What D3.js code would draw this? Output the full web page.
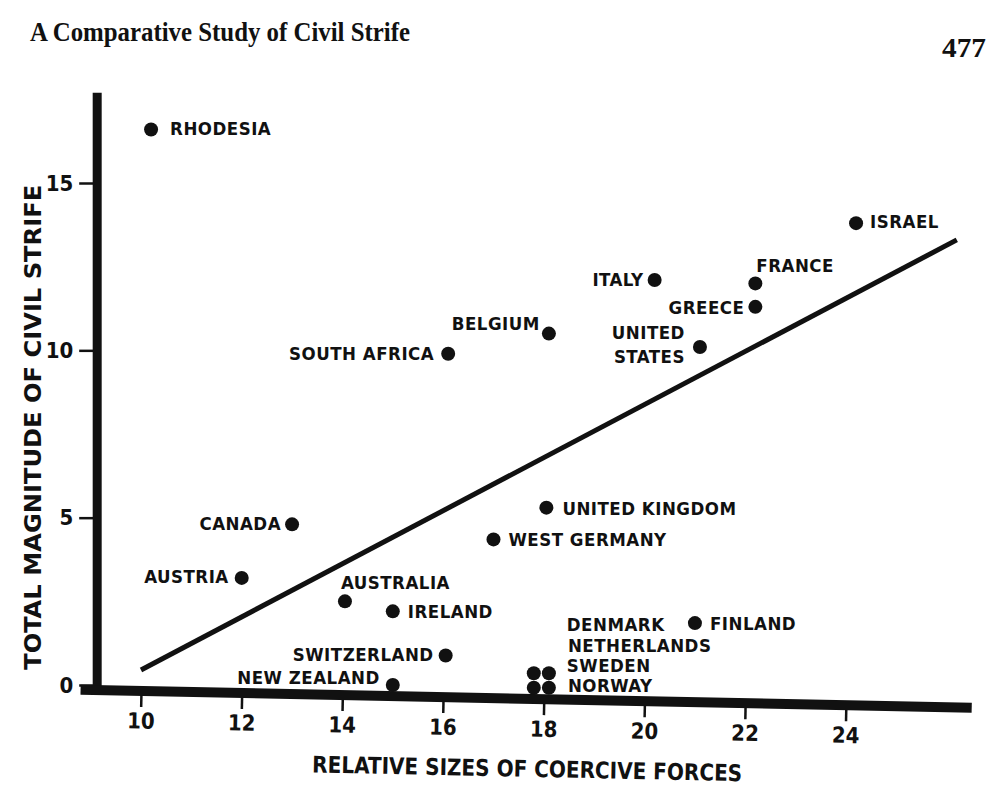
<!DOCTYPE html>
<html>
<head>
<meta charset="utf-8">
<script src="https://cdn.jsdelivr.net/npm/d3@7"></script>
<style>
  body { margin: 0; background: #fff; }
  svg { display: block; }
  text { fill: #111; }
  .lbl { font-family: "DejaVu Sans", sans-serif; font-stretch: condensed; font-weight: bold; font-size: 18.5px; letter-spacing: 0.5px; }
  .tick-lbl { font-family: "DejaVu Sans", sans-serif; font-stretch: condensed; font-weight: bold; font-size: 22px; }
  .ttl { font-family: "DejaVu Sans", sans-serif; font-stretch: condensed; font-weight: bold; font-size: 23px; }
</style>
</head>
<body>
<div id="chart"></div>
<script>
// data
const countries = ["RHODESIA", "ISRAEL", "ITALY", "FRANCE", "GREECE", "BELGIUM", "UNITED STATES",
  "SOUTH AFRICA", "UNITED KINGDOM", "WEST GERMANY", "CANADA", "AUSTRIA", "AUSTRALIA", "IRELAND",
  "FINLAND", "SWITZERLAND", "NEW ZEALAND", "DENMARK", "NETHERLANDS", "SWEDEN", "NORWAY"];
const coercion = [10.2, 24.2, 20.2, 22.2, 22.2, 18.1, 21.1,
  16.1, 18.05, 17.0, 13.0, 12.0, 14.05, 15.0,
  21.0, 16.05, 15.0, 17.8, 18.1, 17.8, 18.1];
const strife = [16.6, 13.8, 12.1, 12.0, 11.3, 10.5, 10.1,
  9.9, 5.3, 4.35, 4.8, 3.2, 2.5, 2.2,
  1.85, 0.88, 0.0, 0.35, 0.35, -0.08, -0.08];

const xTicks = [10, 12, 14, 16, 18, 20, 22, 24];
const yTicks = [0, 5, 10, 15];
const trendX = [10, 26.2];
const trendY = [0.45, 13.3];

// label placement (pixel offsets from the dot)
const labelPos = {
  "RHODESIA": [19, 6, "start"], "ISRAEL": [14, 5, "start"], "ITALY": [-11, 6, "end"],
  "FRANCE": [1, -11, "start"], "GREECE": [-11, 7, "end"], "BELGIUM": [-9, -4, "end"],
  "UNITED STATES": [-15, -8, "end"], "SOUTH AFRICA": [-14, 6, "end"],
  "UNITED KINGDOM": [16, 7, "start"], "WEST GERMANY": [15, 7, "start"],
  "CANADA": [-11, 6, "end"], "AUSTRIA": [-13, 5, "end"], "AUSTRALIA": [-4, -12, "start"],
  "IRELAND": [15, 7, "start"], "FINLAND": [15, 7, "start"], "SWITZERLAND": [-12, 5, "end"],
  "NEW ZEALAND": [-13, -1, "end"], "DENMARK": [33, -42, "start"], "NETHERLANDS": [19, -21, "start"],
  "SWEDEN": [33, -16, "start"], "NORWAY": [19, 4, "start"]
};

const width = 1003;
const height = 794;
const svg = d3.select("#chart").append("svg")
    .attr("width", width)
    .attr("height", height);

const x = d3.scaleLinear().domain([10, 24]).range([141, 846]);
const y = d3.scaleLinear().domain([0, 15]).range([685, 183]);

// page header
svg.append("text")
    .attr("x", 30).attr("y", 41)
    .attr("textLength", 380).attr("lengthAdjust", "spacingAndGlyphs")
    .style("font-family", "'Liberation Serif', serif")
    .style("font-weight", "bold").style("font-size", "27px")
    .text("A Comparative Study of Civil Strife");
svg.append("text")
    .attr("x", 986).attr("y", 57).attr("text-anchor", "end")
    .attr("textLength", 44).attr("lengthAdjust", "spacingAndGlyphs")
    .style("font-family", "'Liberation Serif', serif")
    .style("font-weight", "bold").style("font-size", "28px")
    .text("477");

// y axis
const yAxis = svg.append("g")
    .attr("transform", `translate(${x(9.13) - 4},0)`)
    .call(d3.axisLeft(y).tickValues(yTicks).tickSize(14).tickPadding(6).tickFormat(d3.format("d")));
yAxis.select(".domain").remove();
yAxis.selectAll(".tick line").attr("stroke", "#111").attr("stroke-width", 2.5);
yAxis.selectAll(".tick text").attr("class", "tick-lbl").attr("fill", "#111");
svg.append("line")
    .attr("x1", x(9.13)).attr("x2", x(9.13))
    .attr("y1", y(17.7)).attr("y2", y(-0.15))
    .attr("stroke", "#111").attr("stroke-width", 9);

svg.append("text")
    .attr("class", "ttl")
    .attr("transform", `translate(41,${y(7.7)}) rotate(-90)`)
    .attr("text-anchor", "middle")
    .attr("textLength", 485).attr("lengthAdjust", "spacingAndGlyphs")
    .text("TOTAL MAGNITUDE OF CIVIL STRIFE");

// x axis, slightly skewed like the printed page
const xg = svg.append("g")
    .attr("transform", `translate(0,${y(0) + 5}) rotate(1.17,${x(9.13)},0)`);
const xAxis = xg.append("g")
    .call(d3.axisBottom(x).tickValues(xTicks).tickSize(16).tickPadding(6).tickFormat(d3.format("d")));
xAxis.select(".domain").remove();
xAxis.selectAll(".tick line").attr("stroke", "#111").attr("stroke-width", 2.5);
xAxis.selectAll(".tick text").attr("class", "tick-lbl").attr("fill", "#111");
xg.append("line")
    .attr("x1", x(8.8)).attr("x2", x(26.5))
    .attr("y1", 0).attr("y2", 0)
    .attr("stroke", "#111").attr("stroke-width", 10);
xg.append("text")
    .attr("class", "ttl")
    .attr("x", x(17.7)).attr("y", 78)
    .attr("text-anchor", "middle")
    .attr("textLength", 430).attr("lengthAdjust", "spacingAndGlyphs")
    .text("RELATIVE SIZES OF COERCIVE FORCES");

// regression line
svg.append("line")
    .attr("x1", x(trendX[0])).attr("y1", y(trendY[0]))
    .attr("x2", x(trendX[1])).attr("y2", y(trendY[1]))
    .attr("stroke", "#111").attr("stroke-width", 5);

// points
const pts = countries.map((c, i) => ({ name: c, cx: coercion[i], cy: strife[i] }));
svg.selectAll("circle.pt")
    .data(pts)
    .enter()
    .append("circle")
    .attr("class", "pt")
    .attr("cx", d => x(d.cx))
    .attr("cy", d => y(d.cy))
    .attr("r", 7)
    .attr("fill", "#111");

// labels
const lbl = svg.selectAll("text.lbl")
    .data(pts)
    .enter()
    .append("text")
    .attr("class", "lbl")
    .attr("x", d => x(d.cx) + labelPos[d.name][0])
    .attr("y", d => y(d.cy) + labelPos[d.name][1])
    .attr("text-anchor", d => labelPos[d.name][2]);
lbl.each(function(d) {
    const t = d3.select(this);
    if (d.name === "UNITED STATES") {
        t.append("tspan").text("UNITED");
        t.append("tspan").attr("x", x(d.cx) + labelPos[d.name][0]).attr("dy", 24).text("STATES");
    } else {
        t.text(d.name);
    }
});
</script>
</body>
</html>
